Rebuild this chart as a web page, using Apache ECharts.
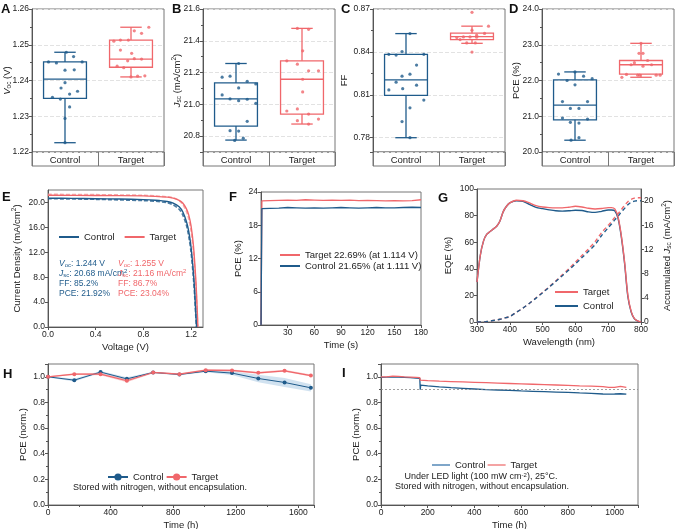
<!DOCTYPE html>
<html>
<head>
<meta charset="utf-8">
<script src="https://cdn.jsdelivr.net/npm/echarts@6/dist/echarts.min.js"></script>
<style>
  html, body { margin: 0; background: #fff; }
  #main { width: 676px; height: 529px; }
</style>
</head>
<body>
<div id="main"></div>
<script>
const groups = ['Control', 'Target'];

// A: Voc (V)  box stats = [min, Q1, median, Q3, max]
const vocStats = [[1.2226, 1.2350, 1.2404, 1.2452, 1.2479], [1.2410, 1.2437, 1.2460, 1.2513, 1.2549]];
const vocCtrl = [1.2479, 1.2452, 1.2449, 1.2467, 1.2452, 1.2429, 1.2430, 1.2379, 1.2394, 1.2370, 1.2362, 1.2353, 1.2348, 1.2326, 1.2294, 1.2226];
const vocCtrlJit = [0.02, -0.25, -0.13, 0.13, 0.26, 0, 0.14, -0.06, 0, 0.19, 0.07, -0.19, -0.07, 0.07, 0, 0];
const vocTarg = [1.2549, 1.2539, 1.2532, 1.2510, 1.2513, 1.2513, 1.2485, 1.2476, 1.2455, 1.2461, 1.2460, 1.2440, 1.2436, 1.2410, 1.2412, 1.2413];
const vocTargJit = [0.27, 0.05, 0.16, -0.26, -0.16, -0.04, -0.16, 0.01, -0.05, 0.05, 0.16, -0.21, -0.11, 0, 0.10, 0.21];

// B: Jsc (mA/cm2)
const jscStats = [[20.775, 20.863, 21.034, 21.135, 21.257], [20.876, 20.939, 21.158, 21.274, 21.478]];
const jscCtrl = [21.257, 21.171, 21.177, 21.145, 21.128, 21.103, 21.059, 21.034, 21.023, 21.032, 21.006, 20.893, 20.834, 20.832, 20.787, 20.773];
const jscCtrlJit = [0.04, -0.21, -0.09, 0.17, 0.30, 0.04, -0.21, -0.09, 0.04, 0.17, 0.30, 0.17, -0.09, 0.04, 0.11, -0.02];
const jscTarg = [21.478, 21.472, 21.337, 21.274, 21.253, 21.211, 21.211, 21.158, 21.078, 20.958, 20.971, 20.939, 20.897, 20.907, 20.876];
const jscTargJit = [-0.07, 0.10, 0.01, -0.23, -0.07, 0.10, 0.25, 0.01, 0.01, -0.23, -0.07, 0.10, -0.07, 0.25, 0.10];

// C: FF
const ffStats = [[0.7800, 0.8096, 0.8204, 0.8383, 0.8528], [0.8460, 0.8486, 0.8507, 0.8531, 0.8580]];
const ffCtrl = [0.8528, 0.8402, 0.8383, 0.8378, 0.8383, 0.8308, 0.8244, 0.8230, 0.8188, 0.8134, 0.8143, 0.8167, 0.8063, 0.8009, 0.7913, 0.7800];
const ffCtrlJit = [0.06, -0.06, -0.26, -0.15, 0.27, 0.16, 0.06, -0.06, -0.15, -0.26, -0.05, 0.16, 0.27, 0.06, -0.06, 0.06];
const ffTarg = [0.8677, 0.8580, 0.8552, 0.8529, 0.8517, 0.8500, 0.8505, 0.8505, 0.8503, 0.8486, 0.8463, 0.8463, 0.8399];
const ffTargJit = [0, 0.25, 0, 0.19, 0.07, -0.23, -0.13, -0.03, 0.07, -0.18, -0.08, 0.05, 0];

// D: PCE (%)
const pceStats = [[20.33, 20.90, 21.31, 22.02, 22.24], [22.09, 22.18, 22.44, 22.56, 23.04]];
const pceCtrl = [22.18, 22.24, 22.00, 22.12, 22.05, 21.88, 21.41, 21.41, 21.22, 21.22, 20.95, 20.92, 20.83, 20.81, 20.40, 20.33];
const pceCtrlJit = [-0.25, 0, -0.12, 0.13, 0.26, 0, -0.19, 0.19, -0.07, 0.06, -0.19, 0.19, -0.07, 0.06, 0.06, -0.06];
const pceTarg = [23.04, 22.76, 22.76, 22.56, 22.50, 22.44, 22.40, 22.44, 22.15, 22.17, 22.09, 22.15, 22.15, 22.15];
const pceTargJit = [0, -0.03, 0.03, 0.10, -0.10, -0.15, 0.03, 0.16, -0.05, -0.22, -0.29, 0.23, 0.29, -0.02];

// E: J-V curves [V, J]
const jvCtrl = [[0, 20.68], [0.2, 20.65], [0.4, 20.6], [0.6, 20.55], [0.8, 20.45], [0.9, 20.35], [1.0, 20.15], [1.05, 19.9], [1.1, 19.3], [1.13, 18.5], [1.16, 17.0], [1.18, 15.4], [1.2, 12.8], [1.22, 8.6], [1.23, 5.8], [1.24, 2.0], [1.246, 0]];
const jvCtrlRev = [[0, 20.6], [0.4, 20.5], [0.8, 20.3], [0.9, 20.2], [1.0, 19.95], [1.05, 19.6], [1.1, 18.9], [1.13, 18.0], [1.16, 16.4], [1.18, 14.6], [1.2, 12.0], [1.22, 7.8], [1.23, 5.0], [1.24, 1.5], [1.245, 0]];
const jvTarg = [[0, 21.16], [0.4, 21.12], [0.8, 21.05], [0.9, 20.98], [1.0, 20.85], [1.05, 20.7], [1.1, 20.35], [1.13, 19.9], [1.16, 19.0], [1.18, 18.0], [1.2, 16.2], [1.22, 13.0], [1.24, 7.5], [1.25, 3.5], [1.257, 0]];
const jvTargRev = [[0, 21.3], [0.4, 21.25], [0.8, 21.15], [0.9, 21.05], [1.0, 20.9], [1.05, 20.75], [1.1, 20.3], [1.13, 19.7], [1.16, 18.6], [1.18, 17.4], [1.2, 15.4], [1.22, 12.0], [1.24, 6.5], [1.25, 2.6], [1.255, 0]];

// F: steady-state output
const fTime = [0, 1, 10, 20, 30, 40, 50, 60, 70, 80, 90, 100, 110, 120, 130, 140, 150, 160, 170, 180];
const fTarget = [0, 22.4, 22.45, 22.5, 22.55, 22.5, 22.6, 22.55, 22.5, 22.55, 22.5, 22.55, 22.45, 22.5, 22.45, 22.4, 22.45, 22.4, 22.45, 22.6];
const fControl = [0, 21.0, 21.05, 21.1, 21.2, 21.15, 21.1, 21.15, 21.1, 21.15, 21.2, 21.15, 21.1, 21.15, 21.2, 21.15, 21.15, 21.2, 21.25, 21.2];

// G: EQE and integrated Jsc
const wl = [300, 310, 320, 330, 340, 350, 360, 370, 380, 390, 400, 420, 440, 460, 480, 500, 520, 540, 560, 580, 600, 620, 640, 660, 680, 700, 710, 720, 730, 740, 750, 760, 770, 780, 790, 800];
const eqeTarg = [30, 50, 61, 66, 68, 70, 72, 76, 83, 87, 89.5, 91.5, 91.2, 89.5, 87.5, 86.5, 86, 85.8, 85.8, 86.3, 87, 86.5, 85.5, 85, 85.3, 86, 86, 85, 79, 65, 45, 20, 8, 2.5, 0.8, 0];
const eqeCtrl = [30, 50, 61, 66, 68, 70, 72, 76, 83, 87, 89.5, 91.2, 90.8, 88.5, 86.2, 85.2, 84.3, 83.6, 83.4, 83.6, 84, 83.8, 82.8, 82.4, 83.2, 84.2, 84.2, 83.6, 78, 64, 44, 19, 7.5, 2.3, 0.7, 0];
const accTarg = [0, 0, 0.02, 0.08, 0.15, 0.25, 0.35, 0.45, 0.6, 0.75, 0.9, 1.6, 2.3, 3.1, 4.0, 4.9, 5.8, 6.8, 7.8, 8.8, 9.9, 11.0, 12.1, 13.3, 14.8, 16.0, 16.6, 17.3, 17.9, 18.6, 19.3, 19.9, 20.3, 20.5, 20.55, 20.55];
const accCtrl = [0, 0, 0.02, 0.08, 0.15, 0.25, 0.35, 0.45, 0.6, 0.75, 0.9, 1.6, 2.3, 3.1, 3.95, 4.85, 5.75, 6.7, 7.65, 8.6, 9.6, 10.65, 11.7, 12.8, 14.3, 15.6, 16.2, 16.9, 17.5, 18.2, 18.8, 19.4, 19.8, 20.0, 20.05, 20.05];

// H: storage stability
const hTime = [0, 168, 336, 504, 672, 840, 1008, 1176, 1344, 1512, 1680];
const hCtrl = [1.0, 0.974, 1.037, 0.984, 1.034, 1.018, 1.044, 1.029, 0.987, 0.956, 0.914];
const hCtrlErr = [0.005, 0.01, 0.008, 0.012, 0.006, 0.006, 0.008, 0.015, 0.03, 0.035, 0.028];
const hTarg = [1.0, 1.021, 1.021, 0.969, 1.034, 1.021, 1.052, 1.05, 1.031, 1.047, 1.01];
const hTargErr = [0.004, 0.006, 0.008, 0.012, 0.006, 0.006, 0.008, 0.008, 0.008, 0.008, 0.008];

// I: operational stability
const iTime = [0, 25, 50, 75, 100, 125, 150, 166, 168, 170, 200, 250, 300, 350, 400, 450, 500, 550, 600, 650, 700, 750, 800, 850, 900, 950, 975, 1000, 1025, 1050];
const iTarg = [1.0, 1.0, 1.005, 1.003, 1.0, 0.998, 0.995, 0.993, 0.975, 0.972, 0.97, 0.966, 0.963, 0.96, 0.957, 0.954, 0.951, 0.948, 0.945, 0.942, 0.939, 0.936, 0.933, 0.93, 0.928, 0.924, 0.918, 0.918, 0.925, 0.918];
const iCtrl = [0.995, 0.997, 1.0, 0.998, 0.996, 0.994, 0.99, 0.988, 0.9, 0.935, 0.93, 0.922, 0.915, 0.91, 0.905, 0.9, 0.897, 0.894, 0.89, 0.887, 0.884, 0.881, 0.878, 0.874, 0.871, 0.866, 0.865, 0.866, 0.868, 0.865];
const iRef = 0.9;

const BLUE = '#1f5b8b', RED = '#f0676b';
const FONT = 'Liberation Sans, Arial, Helvetica, sans-serif';

function merge(a, b) {
  const out = Object.assign({}, a);
  for (const k in b) {
    if (b[k] && typeof b[k] === 'object' && !Array.isArray(b[k]) && a[k] && typeof a[k] === 'object') out[k] = merge(a[k], b[k]);
    else out[k] = b[k];
  }
  return out;
}

const RICH = {
  i: { fontStyle: 'italic', fontSize: 9.5, color: '#222' },
  s: { fontSize: 6.5, lineHeight: 7, verticalAlign: 'bottom', color: '#222' },
  p: { fontSize: 6.5, lineHeight: 7, verticalAlign: 'top', color: '#222' }
};
const AX = {
  type: 'value',
  nameMoveOverlap: false,
  axisLine: { show: true, lineStyle: { color: '#555', width: 1 } },
  axisTick: { show: true, length: 3, lineStyle: { color: '#555' } },
  axisLabel: { fontSize: 8.5, color: '#222', margin: 3 },
  splitLine: { show: false },
  nameLocation: 'middle',
  nameTextStyle: { fontSize: 9.5, color: '#222', lineHeight: 12, rich: RICH }
};
const MINOR = { show: true, splitNumber: 2, length: 2, lineStyle: { color: '#555' } };
const GRID = { show: true, borderColor: '#777', borderWidth: 1, containLabel: false, outerBoundsMode: 'none' };
const plain = v => String(v);
const boxColors = [BLUE, RED];

const grids = [], xAxes = [], yAxes = [], series = [];

// box + whiskers (half-width caps), drawn through the category / value scales
function renderBox(params, api) {
  const c = api.value(0);
  const p = [1, 2, 3, 4, 5].map(d => api.coord([c, api.value(d)]));
  const bw = api.size([1, 0])[0] * 0.65;
  const x = p[0][0], color = boxColors[c];
  const st = { stroke: color, lineWidth: 1.3, fill: null };
  const ln = (x1, y1, x2, y2) => ({ type: 'line', shape: { x1: x1, y1: y1, x2: x2, y2: y2 }, style: st });
  return { type: 'group', children: [
    { type: 'rect', shape: { x: x - bw / 2, y: p[3][1], width: bw, height: p[1][1] - p[3][1] }, style: st },
    ln(x - bw / 2, p[2][1], x + bw / 2, p[2][1]),
    ln(x, p[3][1], x, p[4][1]),
    ln(x, p[1][1], x, p[0][1]),
    ln(x - bw / 4, p[4][1], x + bw / 4, p[4][1]),
    ln(x - bw / 4, p[0][1], x + bw / 4, p[0][1])
  ] };
}

function boxPanel(left, width, yOpt, stats, ctrl, ctrlJit, targ, targJit) {
  const g = grids.push(merge(GRID, { left: left, top: 9, width: width, height: 143 })) - 1;
  const gs = grids.push(merge(GRID, { left: left, top: 152, width: width, height: 14 })) - 1;
  const xc = xAxes.push({ type: 'category', gridIndex: g, data: groups, axisLine: { show: false }, axisTick: { show: false },
    axisLabel: { fontSize: 9.5, color: '#222', margin: 3 } }) - 1;
  const xv = xAxes.push({ type: 'value', gridIndex: g, min: 0, max: 2, show: false }) - 1;
  xAxes.push({ type: 'category', gridIndex: gs, data: groups, axisLine: { show: false }, axisTick: { show: false },
    axisLabel: { show: false }, splitLine: { show: true, lineStyle: { color: '#777' } } });
  const y = yAxes.push(merge(AX, merge({ gridIndex: g, minorTick: MINOR,
    splitLine: { show: true, lineStyle: { color: '#e2e2e2', type: 'dashed' } } }, yOpt))) - 1;
  yAxes.push({ type: 'value', gridIndex: gs, show: false });
  series.push({
    type: 'custom', xAxisIndex: xc, yAxisIndex: y, silent: true, renderItem: renderBox,
    encode: { x: 0, y: [1, 2, 3, 4, 5] },
    data: stats.map((s, i) => [i].concat(s))
  });
  series.push({ type: 'scatter', xAxisIndex: xv, yAxisIndex: y, symbolSize: 3.2, itemStyle: { color: BLUE },
    data: ctrl.map((v, i) => [0.5 + ctrlJit[i], v]) });
  series.push({ type: 'scatter', xAxisIndex: xv, yAxisIndex: y, symbolSize: 3.2, itemStyle: { color: RED },
    data: targ.map((v, i) => [1.5 + targJit[i], v]) });
}

boxPanel(32, 132, { min: 1.22, max: 1.26, interval: 0.01, name: '{i|V}{s|oc} (V)', nameGap: 19,
  axisLabel: { formatter: v => v.toFixed(2) } }, vocStats, vocCtrl, vocCtrlJit, vocTarg, vocTargJit);
boxPanel(203, 132, { min: 20.7, max: 21.6, splitNumber: 4, name: '{i|J}{s|sc} (mA/cm{p|2})', nameGap: 20,
  axisLabel: { showMinLabel: false, formatter: v => v.toFixed(1) } }, jscStats, jscCtrl, jscCtrlJit, jscTarg, jscTargJit);
boxPanel(373, 132, { min: 0.77, max: 0.87, splitNumber: 3, name: 'FF', nameGap: 23,
  axisLabel: { showMinLabel: false, formatter: v => v.toFixed(2) } }, ffStats, ffCtrl, ffCtrlJit, ffTarg, ffTargJit);
boxPanel(542, 132, { min: 20, max: 24, interval: 1, name: 'PCE (%)', nameGap: 20,
  axisLabel: { formatter: v => v.toFixed(1) } }, pceStats, pceCtrl, pceCtrlJit, pceTarg, pceTargJit);

// E
const gE = grids.push(merge(GRID, { left: 48, top: 190, width: 155, height: 137 })) - 1;
const xE = xAxes.push(merge(AX, { gridIndex: gE, min: 0, max: 1.3, interval: 0.4, name: 'Voltage (V)', nameGap: 14,
  axisLabel: { showMaxLabel: false, formatter: v => v.toFixed(1) } })) - 1;
const yE = yAxes.push(merge(AX, { gridIndex: gE, min: 0, max: 22, interval: 4, name: 'Current Density (mA/cm{p|2})', nameGap: 25,
  axisLabel: { showMaxLabel: false, formatter: v => v.toFixed(1) } })) - 1;
function jvLine(name, data, color, dashed) {
  series.push({ type: 'line', name: name, xAxisIndex: xE, yAxisIndex: yE, data: data, symbol: 'none', smooth: 0.3,
    lineStyle: { color: color, width: dashed ? 1.6 : 1.4, type: dashed ? [4, 2] : 'solid', opacity: dashed ? 0.8 : 1 },
    itemStyle: { color: color } });
}
jvLine('E:Target rev', jvTargRev, '#f39a9a', true);
jvLine('E:Target', jvTarg, RED, false);
jvLine('E:Control rev', jvCtrlRev, BLUE, true);
jvLine('E:Control', jvCtrl, BLUE, false);

// F
const gF = grids.push(merge(GRID, { left: 261, top: 192, width: 160, height: 133 })) - 1;
const xF = xAxes.push(merge(AX, { gridIndex: gF, min: 0, max: 180, interval: 30, name: 'Time (s)', nameGap: 14,
  axisLabel: { showMinLabel: false } })) - 1;
const yF = yAxes.push(merge(AX, { gridIndex: gF, min: 0, max: 24, interval: 6, name: 'PCE (%)', nameGap: 17 })) - 1;
series.push({ type: 'line', name: 'F:Target 22.69% (at 1.114 V)', xAxisIndex: xF, yAxisIndex: yF, symbol: 'none',
  data: fTime.map((t, i) => [t, fTarget[i]]), lineStyle: { color: RED, width: 1.3 }, itemStyle: { color: RED } });
series.push({ type: 'line', name: 'F:Control 21.65% (at 1.111 V)', xAxisIndex: xF, yAxisIndex: yF, symbol: 'none',
  data: fTime.map((t, i) => [t, fControl[i]]), lineStyle: { color: BLUE, width: 1.3 }, itemStyle: { color: BLUE } });

// G
const gG = grids.push(merge(GRID, { left: 477, top: 189, width: 164, height: 133 })) - 1;
const xG = xAxes.push(merge(AX, { gridIndex: gG, min: 300, max: 800, interval: 100, name: 'Wavelength (nm)', nameGap: 14 })) - 1;
const yG = yAxes.push(merge(AX, { gridIndex: gG, min: 0, max: 100, interval: 20, name: 'EQE (%)', nameGap: 23 })) - 1;
const yG2 = yAxes.push(merge(AX, { gridIndex: gG, position: 'right', min: 0, max: 22, interval: 4,
  name: 'Accumulated {i|J}{s|sc} (mA/cm{p|2})', nameGap: 20, axisLabel: { showMaxLabel: false } })) - 1;
function gLine(name, vals, yIdx, color, dashed) {
  series.push({ type: 'line', name: name, xAxisIndex: xG, yAxisIndex: yIdx, symbol: 'none', smooth: 0.3,
    data: wl.map((w, i) => [w, vals[i]]),
    lineStyle: { color: color, width: 1.4, type: dashed ? [4, 3] : 'solid' }, itemStyle: { color: color } });
}
gLine('G:Target acc', accTarg, yG2, RED, true);
gLine('G:Control acc', accCtrl, yG2, BLUE, true);
gLine('G:Control', eqeCtrl, yG, BLUE, false);
gLine('G:Target', eqeTarg, yG, RED, false);

// H
const gH = grids.push(merge(GRID, { left: 48, top: 364, width: 266, height: 141 })) - 1;
const xH = xAxes.push(merge(AX, { gridIndex: gH, min: 0, max: 1700, interval: 400, name: 'Time (h)', nameGap: 14,
  minorTick: MINOR, axisLabel: { showMaxLabel: false, formatter: plain } })) - 1;
const yH = yAxes.push(merge(AX, { gridIndex: gH, min: 0, max: 1.1, interval: 0.2, name: 'PCE (norm.)', nameGap: 19,
  minorTick: MINOR, axisLabel: { showMaxLabel: false, formatter: v => v.toFixed(1) } })) - 1;
// shaded spread drawn as a polygon through the axis scales
function hBand(vals, errs, color) {
  series.push({
    type: 'custom', xAxisIndex: xH, yAxisIndex: yH, silent: true, z: 1,
    data: hTime.map((t, i) => [t, vals[i] - errs[i], vals[i] + errs[i]]),
    encode: { x: 0, y: [1, 2] },
    renderItem: (params, api) => {
      if (params.dataIndex !== 0) return { type: 'group', children: [] };
      const lo = hTime.map((t, i) => api.coord([t, vals[i] - errs[i]]));
      const hi = hTime.map((t, i) => api.coord([t, vals[i] + errs[i]])).reverse();
      return { type: 'polygon', shape: { points: lo.concat(hi) }, style: { fill: color } };
    }
  });
}
hBand(hCtrl, hCtrlErr, 'rgba(90,150,200,0.28)');
hBand(hTarg, hTargErr, 'rgba(240,103,107,0.35)');
series.push({ type: 'line', name: 'H:Control', xAxisIndex: xH, yAxisIndex: yH, symbol: 'circle', symbolSize: 4, z: 3,
  data: hTime.map((t, i) => [t, hCtrl[i]]), lineStyle: { color: BLUE, width: 1 }, itemStyle: { color: BLUE } });
series.push({ type: 'line', name: 'H:Target', xAxisIndex: xH, yAxisIndex: yH, symbol: 'circle', symbolSize: 4, z: 3,
  data: hTime.map((t, i) => [t, hTarg[i]]), lineStyle: { color: RED, width: 1.2 }, itemStyle: { color: RED } });

// I
const gI = grids.push(merge(GRID, { left: 381, top: 364, width: 257, height: 141 })) - 1;
const xI = xAxes.push(merge(AX, { gridIndex: gI, min: 0, max: 1100, interval: 200, name: 'Time (h)', nameGap: 14,
  minorTick: MINOR, axisLabel: { showMaxLabel: false, formatter: plain } })) - 1;
const yI = yAxes.push(merge(AX, { gridIndex: gI, min: 0, max: 1.1, interval: 0.2, name: 'PCE (norm.)', nameGap: 19,
  minorTick: MINOR, axisLabel: { showMaxLabel: false, formatter: v => v.toFixed(1) } })) - 1;
series.push({ type: 'line', name: 'I:Control', xAxisIndex: xI, yAxisIndex: yI, symbol: 'none',
  data: iTime.map((t, i) => [t, iCtrl[i]]), lineStyle: { color: BLUE, width: 1.3 }, itemStyle: { color: '#7fa6c9' } });
series.push({ type: 'line', name: 'I:Target', xAxisIndex: xI, yAxisIndex: yI, symbol: 'none',
  data: iTime.map((t, i) => [t, iTarg[i]]), lineStyle: { color: RED, width: 1.3 }, itemStyle: { color: '#f4a3a3' },
  markLine: { silent: true, symbol: 'none', label: { show: false },
    lineStyle: { color: '#888', type: [2, 2], width: 0.8 }, data: [{ yAxis: iRef }] } });

const strip = n => n.replace(/^\w+:/, '');
const LEG = { selectedMode: false, formatter: strip, textStyle: { fontSize: 9.5, color: '#222' }, padding: 0 };
const LINE_LEG = merge(LEG, { icon: 'rect', itemHeight: 2 });

const T = (text, x, y, extra) => ({ type: 'text', x: x, y: y,
  style: Object.assign({ text: text, fontFamily: FONT, fontSize: 9, fill: '#222' }, extra || {}) });
const GR = {
  i: { fontStyle: 'italic', fontSize: 8.5, fontFamily: FONT },
  s: { fontSize: 6, lineHeight: 6, verticalAlign: 'bottom', fontFamily: FONT },
  p: { fontSize: 6, lineHeight: 6, verticalAlign: 'top', fontFamily: FONT }
};
const richFill = c => { const r = {}; for (const k in GR) r[k] = Object.assign({ fill: c }, GR[k]); return r; };
const letters = [['A', 1, 3], ['B', 172, 3], ['C', 341, 3], ['D', 509, 3], ['E', 2, 191], ['F', 229, 191], ['G', 438, 192], ['H', 3, 368], ['I', 342, 367]];

const option = {
  animation: false,
  textStyle: { fontFamily: FONT },
  grid: grids,
  xAxis: xAxes,
  yAxis: yAxes,
  series: series,
  legend: [
    merge(LINE_LEG, { left: 59, top: 232, itemWidth: 20, itemGap: 10, data: ['E:Control', 'E:Target'] }),
    merge(LINE_LEG, { left: 280, top: 250, orient: 'vertical', itemWidth: 20, itemGap: 1,
      data: ['F:Target 22.69% (at 1.114 V)', 'F:Control 21.65% (at 1.111 V)'] }),
    merge(LINE_LEG, { left: 555, top: 287, orient: 'vertical', itemWidth: 23, itemGap: 4, data: ['G:Target', 'G:Control'] }),
    merge(LEG, { left: 107, top: 472, itemWidth: 20, itemHeight: 9, itemGap: 2, data: ['H:Control', 'H:Target'] }),
    merge(LINE_LEG, { left: 432, top: 460, itemWidth: 18, itemGap: 2, data: ['I:Control', 'I:Target'] })
  ],
  graphic: letters.map(l => T(l[0], l[1], l[2], { fontSize: 13, fontWeight: 'bold', fill: '#111' })).concat([
    T('{i|V}{s|oc}: 1.244 V\n{i|J}{s|sc}: 20.68 mA/cm{p|2}\nFF: 85.2%\nPCE: 21.92%', 59, 259,
      { fontSize: 8.5, fill: BLUE, lineHeight: 9.8, rich: richFill(BLUE) }),
    T('{i|V}{s|oc}: 1.255 V\n{i|J}{s|sc}: 21.16 mA/cm{p|2}\nFF: 86.7%\nPCE: 23.04%', 118, 259,
      { fontSize: 8.5, fill: RED, lineHeight: 9.8, rich: richFill(RED) }),
    T('Stored with nitrogen, without encapsulation.', 160, 488, { align: 'center', verticalAlign: 'middle' }),
    T('Under LED light (100 mW cm{p|-2}), 25°C.', 481, 477, { align: 'center', verticalAlign: 'middle', rich: richFill('#222') }),
    T('Stored with nitrogen, without encapsulation.', 482, 487, { align: 'center', verticalAlign: 'middle' })
  ])
};

const chart = echarts.init(document.getElementById('main'));
chart.setOption(option);
</script>
</body>
</html>
